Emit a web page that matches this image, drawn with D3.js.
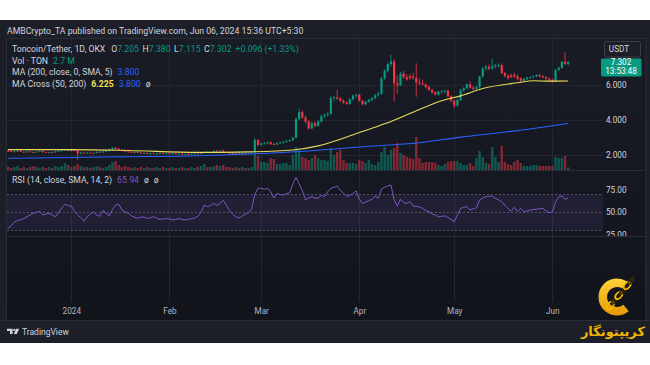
<!DOCTYPE html>
<html><head><meta charset="utf-8">
<script src="https://cdn.jsdelivr.net/npm/d3@7"></script>
<style>html,body{margin:0;padding:0;background:#fff;}svg{display:block;}</style>
</head><body><svg id="c" width="650" height="365"></svg>
<script>
// ---------------- DATA ----------------
const firstDay = "2023-12-12";   // first daily candle, one candle per day
const opens = [
2.24,2.22,2.19,2.21,2.25,2.18,2.16,2.20,2.17,2.14,2.19,2.22,2.16,2.13,2.17,2.15,2.21,2.24,2.27,2.31,
2.25,2.28,2.24,2.08,2.14,2.11,2.13,2.10,2.12,2.18,2.16,2.20,2.24,2.33,2.41,2.35,2.29,2.24,2.20,2.17,2.14,2.18,2.13,2.09,2.12,2.07,2.10,2.06,2.08,2.11,2.07,
2.09,2.06,2.09,2.05,2.07,2.04,2.06,2.03,2.05,2.08,2.06,2.12,2.17,2.13,2.16,2.23,2.20,2.25,2.18,2.14,2.11,2.09,2.12,2.08,2.10,2.07,2.10,2.14,2.85,
2.58,2.66,2.70,2.72,2.62,2.60,2.68,2.72,2.76,2.80,2.85,2.98,4.05,4.45,4.15,3.90,3.52,3.82,3.66,3.92,4.22,4.30,4.35,5.25,5.30,5.22,5.10,5.00,4.92,5.18,5.40,
5.45,5.10,4.90,5.05,5.15,5.25,5.42,5.50,6.38,6.80,7.20,7.35,6.10,5.98,6.65,6.45,6.50,6.48,6.40,6.15,6.08,6.02,5.88,5.72,5.58,5.46,5.62,5.66,5.68,5.36,
5.10,4.82,5.14,5.70,5.82,6.05,5.85,5.78,5.88,6.48,6.95,7.05,6.94,7.06,7.12,7.14,6.68,6.52,6.55,6.58,6.50,6.38,6.24,6.35,6.42,6.46,6.50,6.57,6.50,6.44,6.36,
6.30,6.22,6.86,6.98,7.32,7.205];
const highs = [
2.30,2.27,2.24,2.29,2.28,2.22,2.23,2.24,2.21,2.21,2.25,2.25,2.20,2.19,2.21,2.24,2.27,2.29,2.34,2.35,
2.30,2.32,2.27,2.17,2.19,2.16,2.18,2.15,2.21,2.24,2.22,2.27,2.37,2.46,2.46,2.39,2.33,2.28,2.25,2.22,2.20,2.23,2.17,2.15,2.16,2.13,2.14,2.11,2.13,2.15,2.12,
2.13,2.11,2.12,2.10,2.11,2.09,2.10,2.08,2.11,2.13,2.15,2.20,2.21,2.19,2.26,2.30,2.28,2.31,2.23,2.18,2.16,2.14,2.16,2.13,2.14,2.12,2.16,2.97,2.90,
2.72,2.74,2.76,2.78,2.70,2.72,2.76,2.80,2.84,2.88,3.05,4.15,4.67,4.55,4.25,4.00,3.90,3.92,4.00,4.30,4.38,4.45,5.35,5.40,5.72,5.32,5.18,5.08,5.25,5.45,5.50,
5.50,5.15,5.10,5.22,5.30,5.50,5.60,6.45,6.90,7.30,7.71,7.45,6.55,6.75,6.80,6.62,6.62,6.70,7.24,6.40,6.30,6.12,5.98,5.80,5.66,5.68,5.72,5.74,5.72,5.42,
5.16,5.20,5.78,5.88,6.10,6.22,5.95,5.95,6.52,7.05,7.15,7.18,7.50,7.20,7.24,7.22,6.75,6.62,6.65,6.70,6.62,6.45,6.40,6.48,6.50,6.55,6.62,6.62,6.56,6.50,6.42,
6.36,6.92,7.05,7.38,7.87,7.38];
const lows = [
2.18,2.16,2.14,2.18,2.16,2.12,2.13,2.15,2.11,2.12,2.16,2.14,2.11,2.10,2.12,2.13,2.18,2.20,2.23,2.22,
2.20,2.21,1.72,2.04,2.07,2.05,2.08,2.04,2.09,2.13,2.12,2.17,2.21,2.29,2.32,2.26,2.21,2.17,2.14,2.11,2.09,2.12,2.06,2.05,2.04,2.03,2.04,2.01,2.04,2.05,2.03,
2.04,2.02,2.03,2.01,2.02,2.00,2.01,1.99,2.02,2.04,2.04,2.09,2.11,2.09,2.13,2.17,2.16,2.16,2.11,2.08,2.06,2.04,2.05,2.03,2.04,2.03,2.06,2.12,2.48,
2.55,2.58,2.60,2.58,2.55,2.57,2.62,2.66,2.70,2.74,2.80,2.95,3.98,4.05,3.80,3.45,3.48,3.58,3.62,3.85,4.10,4.20,4.30,5.05,5.15,5.02,4.92,4.85,4.88,5.10,5.25,
5.05,4.82,4.85,4.98,5.05,5.18,5.35,5.45,6.30,6.70,7.05,5.05,5.50,5.95,6.35,6.25,6.30,6.30,5.33,6.00,5.98,5.80,5.65,5.50,5.40,5.40,5.50,5.52,5.30,5.00,
4.67,4.78,5.08,5.60,5.75,5.80,5.70,5.72,5.80,6.42,6.80,6.85,6.88,6.95,7.00,6.62,6.45,6.30,6.38,6.40,6.28,6.15,6.18,6.28,6.34,6.38,6.44,6.42,6.38,6.30,6.22,
6.15,6.18,6.80,6.92,7.12,7.115];
const closes = [
2.22,2.19,2.21,2.25,2.18,2.16,2.20,2.17,2.14,2.19,2.22,2.16,2.13,2.17,2.15,2.21,2.24,2.27,2.31,2.25,
2.28,2.24,2.08,2.14,2.11,2.13,2.10,2.12,2.18,2.16,2.20,2.24,2.33,2.41,2.35,2.29,2.24,2.20,2.17,2.14,2.18,2.13,2.09,2.12,2.07,2.10,2.06,2.08,2.11,2.07,2.09,
2.06,2.09,2.05,2.07,2.04,2.06,2.03,2.05,2.08,2.06,2.12,2.17,2.13,2.16,2.23,2.20,2.25,2.18,2.14,2.11,2.09,2.12,2.08,2.10,2.07,2.10,2.14,2.85,2.58,
2.66,2.70,2.72,2.62,2.60,2.68,2.72,2.76,2.80,2.85,2.98,4.05,4.45,4.15,3.90,3.52,3.82,3.66,3.92,4.22,4.30,4.35,5.25,5.30,5.22,5.10,5.00,4.92,5.18,5.40,5.45,
5.10,4.90,5.05,5.15,5.25,5.42,5.50,6.38,6.80,7.20,7.35,6.10,5.98,6.65,6.45,6.32,6.40,6.40,6.15,6.08,6.02,5.88,5.72,5.58,5.46,5.62,5.66,5.68,5.36,5.10,
4.82,5.14,5.70,5.82,6.05,5.85,5.78,5.88,6.48,6.95,7.05,6.94,7.06,7.12,7.14,6.68,6.52,6.40,6.46,6.48,6.35,6.24,6.35,6.42,6.46,6.50,6.57,6.50,6.44,6.36,6.30,
6.22,6.86,6.98,7.32,7.205,7.302];
// volume in millions of TON
const volumes = [
3,2,3,4,2,3,2,3,4,3,2,3,2,3,2,4,3,4,7,5,
3,4,6,4,3,3,2,3,4,3,2,3,5,8,9,5,3,4,3,2,3,2,3,2,3,2,2,3,2,3,2,
2,3,2,2,3,2,2,3,2,3,4,6,3,3,4,5,4,5,3,3,2,3,2,3,2,2,3,16,14,
8,8,7,12,11,6,6,7,7,5,15,23,20,13,12,10,12,15,12,10,10,9,22,15,18,20,10,7,7,7,6,
10,9,7,10,6,5,8,18,23,15,20,22,27,17,15,13,12,11,33,12,7,8,8,8,7,5,4,6,8,9,
9,9,7,5,5,7,4,12,19,13,7,6,23,13,8,24,8,6,5,8,10,7,4,4,4,5,5,4,4,4,4,
4,13,12,12,14,2.7];
const rsiValues = [
32,35,39,41,41.5,43,45,47,49,50,51,47,48,49,47,45,50,55,59,57.5,
57,51,47,44,40,45,48,50.5,47,45.5,52,49,46,53,58,59,52.6,50.5,49,46,44.5,43.3,44.7,44.5,43,44,45,43.5,42,42.5,43,
42.5,41.5,42,43,42,41.5,42,43,43.5,45.5,50,58,56.5,57.5,60,57.5,60,63.5,58,52,48,45,43.5,46,48,49.5,54,70,77,
77,75.8,77,73,66,71,70,69.4,71,72,82,89,82,74,64,66,67.5,66,65.7,69,67.5,73,77,78,79.5,75,71,68,69,71,74,
65,60,61.5,63,64.6,68,66,76,78,79.5,80.6,64,57,64.6,61,60,62,57,56.5,56,54.5,52,50.7,48,47,45,45.5,46,44,42,
39.5,47,54.5,55.5,56.3,52.6,54,55,63.8,66,67.5,68,68.3,65.5,64,62,58,54,51,55.6,50.7,54.5,50.7,51.5,52.6,53,53.4,54,54.5,51.5,49.6,
50,62,67,68.3,64.6,65.94];
// moving averages
const ma50Dates  = ["2023-12-12","2024-01-01","2024-01-19","2024-02-10","2024-02-26","2024-03-11","2024-03-19","2024-03-26","2024-04-01","2024-04-09","2024-04-20","2024-04-27","2024-05-03","2024-05-10","2024-05-21","2024-05-26","2024-05-31","2024-06-06"];
const ma50Values = [2.31,2.31,2.26,2.15,2.18,2.29,2.52,2.90,3.28,3.78,4.60,5.10,5.38,5.80,6.13,6.24,6.22,6.225];
const ma200Dates  = ["2023-12-12","2024-01-01","2024-01-19","2024-02-10","2024-02-28","2024-03-21","2024-04-01","2024-04-20","2024-05-03","2024-05-19","2024-06-06"];
const ma200Values = [1.81,1.86,1.90,1.96,2.07,2.30,2.46,2.70,3.02,3.35,3.80];
const priceTicks = [2,4,6];
const rsiTicks = [25,50,75];
const rsiBands = [70,50,30];
const monthTicks = ["2024-01-01","2024-02-01","2024-03-01","2024-04-01","2024-05-01","2024-06-01"];

// ---------------- CHART ----------------
const FONT = "Roboto, 'Noto Sans', sans-serif";
const UP = "#089981", DOWN = "#f23645";
const TXT = "#d1d4dc";
const DAY = 86400000;
const parse = s => new Date(s + "T00:00:00Z");
const t0 = parse(firstDay).getTime();
const bars = closes.map((c,i)=>({date:new Date(t0+i*DAY), o:opens[i], h:highs[i], l:lows[i], c:c, v:volumes[i], r:rsiValues[i]}));

const svg = d3.select("#c").attr("font-family", FONT);
const defs = svg.append("defs");
const g1 = defs.append("linearGradient").attr("id","bg").attr("x1",0).attr("y1",0).attr("x2",0).attr("y2",1);
g1.append("stop").attr("offset","0%").attr("stop-color","#191c25");
g1.append("stop").attr("offset","100%").attr("stop-color","#12141c");
const g2 = defs.append("linearGradient").attr("id","gold").attr("x1",0).attr("y1",0).attr("x2",0).attr("y2",1);
g2.append("stop").attr("offset","0%").attr("stop-color","#ffd23a");
g2.append("stop").attr("offset","100%").attr("stop-color","#e59a00");
defs.append("clipPath").attr("id","mainClip").append("rect").attr("x",7).attr("y",38).attr("width",596).attr("height",132);
defs.append("clipPath").attr("id","rsiClip").append("rect").attr("x",7).attr("y",171).attr("width",596).attr("height",65);
defs.append("clipPath").attr("id","rsiAxisClip").append("rect").attr("x",603).attr("y",171).attr("width",43).attr("height",65);

svg.append("rect").attr("width",650).attr("height",365).attr("fill","#ffffff");
svg.append("rect").attr("x",0).attr("y",20).attr("width",650).attr("height",323).attr("fill","#1d1f28");
svg.append("rect").attr("x",6.5).attr("y",38.5).attr("width",639.5).attr("height",282).attr("fill","url(#bg)").attr("stroke","#2a2e39");

const jan1 = Date.UTC(2024,0,1);
const x = d3.scaleUtc().domain([new Date(jan1-20.316*DAY), new Date(jan1+168*DAY)]).range([7,603]);
const y = d3.scaleLinear().domain([2,6]).range([155,85]);
const yv = d3.scaleLinear().domain([0,35]).range([170,135]);
const yr = d3.scaleLinear().domain([25,75]).range([234.6,190]);
const months = monthTicks.map(parse);

// grid
const grid = svg.append("g").attr("stroke","#222631").attr("stroke-width",1);
grid.selectAll("line.v").data(months).join("line")
  .attr("x1",d=>Math.round(x(d))+0.5).attr("x2",d=>Math.round(x(d))+0.5).attr("y1",39).attr("y2",302);
grid.selectAll("line.h").data(priceTicks).join("line")
  .attr("x1",7).attr("x2",603).attr("y1",d=>Math.round(y(d))+0.5).attr("y2",d=>Math.round(y(d))+0.5);

// pane separators
svg.append("line").attr("x1",7).attr("x2",646).attr("y1",170.5).attr("y2",170.5).attr("stroke","#2a2e39");
svg.append("line").attr("x1",7).attr("x2",646).attr("y1",236.5).attr("y2",236.5).attr("stroke","#2a2e39");

// main pane
const main = svg.append("g").attr("clip-path","url(#mainClip)");
main.append("g").selectAll("rect").data(bars).join("rect")
  .attr("x",d=>x(d.date)-1.2).attr("width",2.4)
  .attr("y",d=>yv(d.v)).attr("height",d=>170-yv(d.v))
  .attr("fill",d=>d.c>=d.o?UP:DOWN).attr("opacity",0.5);
const cg = main.append("g");
cg.selectAll("line").data(bars).join("line")
  .attr("x1",d=>x(d.date)).attr("x2",d=>x(d.date))
  .attr("y1",d=>y(d.h)).attr("y2",d=>y(d.l))
  .attr("stroke",d=>d.c>=d.o?UP:DOWN).attr("stroke-width",0.8);
cg.selectAll("rect").data(bars).join("rect")
  .attr("x",d=>x(d.date)-1.1).attr("width",2.2)
  .attr("y",d=>y(Math.max(d.o,d.c))).attr("height",d=>Math.max(0.8,Math.abs(y(d.o)-y(d.c))))
  .attr("fill",d=>d.c>=d.o?UP:DOWN);
const maLine = d3.line().x(d=>x(d[0])).y(d=>y(d[1])).curve(d3.curveMonotoneX);
main.append("path").attr("d",maLine(ma200Dates.map((s,i)=>[parse(s),ma200Values[i]])))
  .attr("fill","none").attr("stroke","#2962ff").attr("stroke-width",1.1);
main.append("path").attr("d",maLine(ma50Dates.map((s,i)=>[parse(s),ma50Values[i]])))
  .attr("fill","none").attr("stroke","#e9d95e").attr("stroke-width",1.1);

// RSI pane
const rp = svg.append("g").attr("clip-path","url(#rsiClip)");
rp.append("rect").attr("x",7).attr("width",596).attr("y",yr(70)).attr("height",yr(30)-yr(70)).attr("fill","rgba(126,87,194,0.12)");
rp.selectAll("line.b").data(rsiBands).join("line")
  .attr("x1",7).attr("x2",603).attr("y1",d=>Math.round(yr(d))+0.5).attr("y2",d=>Math.round(yr(d))+0.5)
  .attr("stroke","#787b86").attr("stroke-dasharray","2,2").attr("opacity",0.6);
rp.append("path").attr("d",d3.line().x(d=>x(d.date)).y(d=>yr(d.r))(bars))
  .attr("fill","none").attr("stroke","#7e57c2").attr("stroke-width",1);

// axes
function styleAxis(g, size, fill){
  g.select(".domain").remove();
  g.selectAll(".tick line").remove();
  g.selectAll("text").attr("font-size",size).attr("fill",fill).attr("font-family",FONT);
}
const pa = svg.append("g").attr("transform","translate(606,0)")
  .call(d3.axisRight(y).tickValues(priceTicks).tickFormat(d3.format(".3f")).tickSize(0).tickPadding(0));
styleAxis(pa,8.2,TXT);
const ra = svg.append("g").attr("clip-path","url(#rsiAxisClip)").append("g").attr("transform","translate(606,0)")
  .call(d3.axisRight(yr).tickValues(rsiTicks).tickFormat(d3.format(".2f")).tickSize(0).tickPadding(0));
styleAxis(ra,8.2,TXT);
const ta = svg.append("g").attr("transform","translate(0,308)")
  .call(d3.axisBottom(x).tickValues(months).tickSize(0).tickPadding(0)
    .tickFormat(d=>d.getUTCMonth()===0?String(d.getUTCFullYear()):d3.utcFormat("%b")(d)));
styleAxis(ta,8.2,"#b2b5be");

// price labels
svg.append("rect").attr("x",601).attr("y",58.5).attr("width",40.5).attr("height",18).attr("rx",1.5).attr("fill",UP);
svg.append("text").attr("x",621).attr("y",65.3).attr("text-anchor","middle").attr("font-size",8.2).attr("fill","#ffffff").text(d3.format(".3f")(closes[closes.length-1]));
svg.append("text").attr("x",621).attr("y",74.3).attr("text-anchor","middle").attr("font-size",8.2).attr("fill","#ffffff").text("13:53:48");
svg.append("rect").attr("x",604.5).attr("y",41.5).attr("width",36).attr("height",15.5).attr("rx",2).attr("fill","#1d1f28").attr("stroke","#3a3e4a");
svg.append("text").attr("x",619).attr("y",52).attr("text-anchor","middle").attr("font-size",8.2).attr("fill",TXT).text("USDT");

// header + legends
svg.append("text").attr("x",7).attr("y",34).attr("font-size",8.7).attr("fill",TXT)
  .text("AMBCrypto_TA published on TradingView.com, Jun 06, 2024 15:36 UTC+5:30");
function legend(yy, parts){
  const t = svg.append("text").attr("x",12).attr("y",yy).attr("font-size",8.7);
  parts.forEach(p=>t.append("tspan").attr("dx",p[2]||0).attr("fill",p[1]).attr("font-weight",p[3]||null).text(p[0]));
}
const last = bars[bars.length-1];
legend(52,[["Toncoin/Tether, 1D, OKX",TXT],["O",TXT,6],[last.o.toFixed(3),UP],["H",TXT,3.5],[last.h.toFixed(3),UP],["L",TXT,3.5],[last.l.toFixed(3),UP],["C",TXT,3.5],[last.c.toFixed(3),UP],["+0.096 (+1.33%)",UP,4]]);
legend(63.5,[["Vol · TON",TXT],["2.7 M",UP,5]]);
legend(75,[["MA (200, close, 0, SMA, 5)",TXT],[ma200Values[ma200Values.length-1].toFixed(3),"#2962ff",5]]);
legend(86.5,[["MA Cross (50, 200)",TXT],[ma50Values[ma50Values.length-1].toFixed(3),"#f2e05a",5,"bold"],[ma200Values[ma200Values.length-1].toFixed(3),"#2962ff",5],["ø",TXT,5]]);
legend(183,[["RSI (14, close, SMA, 14, 2)",TXT],[last.r.toFixed(2),"#7e57c2",5],["ø",TXT,5],["ø",TXT,5]]);

// footer logo
svg.append("line").attr("x1",0).attr("x2",650).attr("y1",320.5).attr("y2",320.5).attr("stroke","#2a2e39");
const lg = svg.append("g").attr("fill",TXT);
lg.append("path").attr("d","M7,328.7 h5.6 v5.4 h-2.6 v-3.2 h-3 z");
lg.append("circle").attr("cx",14.3).attr("cy",329.9).attr("r",1.15);
lg.append("path").attr("d","M16.2,328.7 h3 l-2.4,5.4 h-3 z");
svg.append("text").attr("x",22).attr("y",335).attr("font-size",8.5).attr("fill",TXT).text("TradingView");

// watermark: golden "C" with a chain, and the Persian brand name
const wm = svg.append("g");
wm.append("path").attr("d",d3.arc()({innerRadius:10,outerRadius:18.5,startAngle:2.45,endAngle:2*Math.PI+0.55}))
  .attr("transform","translate(617,297)").attr("fill","url(#gold)");
const chain = wm.append("g").attr("transform","translate(620,294) rotate(-50)");
[-15,-8.5,-2,4.5,11,17].forEach((cx,k)=>chain.append("ellipse").attr("cx",cx).attr("cy",0).attr("rx",4.2).attr("ry",k%2?1.4:2.7)
  .attr("fill","none").attr("stroke",k%2?"#3a2c08":"#f5b800").attr("stroke-width",1.7));
wm.append("text").attr("x",645).attr("y",336).attr("text-anchor","end").attr("font-size",13).attr("font-weight","bold")
  .attr("font-family","'DejaVu Sans', sans-serif").attr("fill","#f2b705").text("کریپتونگار");
</script></body></html>
